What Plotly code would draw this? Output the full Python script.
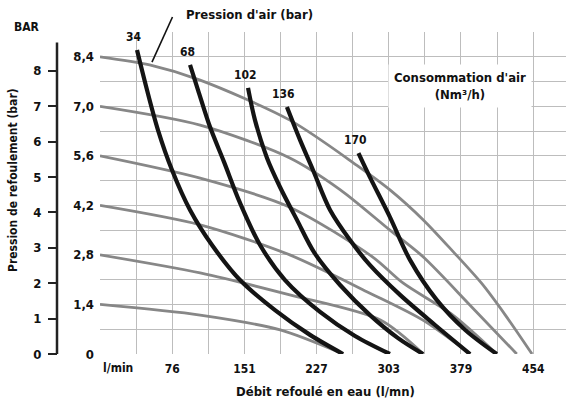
import plotly.graph_objects as go

# ---- data -------------------------------------------------------------
# flow axis (l/min): grid every 10 US gpm, labels every 20 US gpm
flow_grid = [i * 37.85 for i in range(13)]
flow_tick_text = ["", "", "76", "", "151", "", "227", "", "303", "", "379", "", "454"]

# discharge pressure axis (bar): grid every 0.7 bar, labels every 1.4 bar
bar_grid = [round(i * 0.7, 1) for i in range(14)]
bar_tick_text = ["0", "", "1,4", "", "2,8", "", "4,2", "", "5,6", "", "7,0", "", "8,4", ""]
bar_left_ticks = [0, 1, 2, 3, 4, 5, 6, 7, 8]

# constant air-pressure curves (grey): flow l/min -> discharge bar
p84_flow = [0, 52, 105, 199, 269, 304, 339, 370, 400, 425, 453]
p84_bar = [8.4, 8.17, 7.74, 6.61, 5.34, 4.64, 3.79, 2.9, 2.0, 1.1, 0]
p70_flow = [0, 105, 199, 252, 304, 339, 388, 437]
p70_bar = [7.0, 6.47, 5.54, 4.64, 3.50, 2.74, 1.38, 0]
p56_flow = [0, 105, 199, 286, 318, 370, 416]
p56_bar = [5.6, 4.97, 4.15, 2.74, 2.0, 1.1, 0]
p42_flow = [0, 105, 199, 283, 339, 388]
p42_bar = [4.2, 3.65, 2.8, 1.72, 0.95, 0]
p28_flow = [0, 105, 199, 294, 339]
p28_bar = [2.8, 2.29, 1.67, 0.96, 0]
p14_flow = [0, 105, 189, 255]
p14_bar = [1.4, 1.10, 0.68, 0]

# constant air-consumption curves (black, Nm3/h)
c34_flow = [38.8, 49.3, 60.8, 75.5, 94.4, 117.4, 146.8, 183.5, 220.2, 254.8]
c34_bar = [8.59, 7.46, 6.33, 5.20, 4.07, 3.08, 2.09, 1.24, 0.54, 0]
c68_flow = [94.4, 102.8, 115.3, 130.0, 146.8, 167.8, 194.0, 230.7, 267.4, 304.0]
c68_bar = [8.17, 7.46, 6.42, 5.43, 4.27, 3.08, 2.09, 1.19, 0.51, 0]
c102_flow = [155.2, 162.5, 175.1, 188.7, 206.5, 225.0, 251.7, 283.1, 312.5, 338.7]
c102_bar = [7.52, 6.61, 5.54, 4.72, 3.79, 2.85, 1.95, 1.10, 0.45, 0]
c136_flow = [196.0, 209.7, 223.3, 241.2, 262.1, 283.1, 314.6, 351.3, 388.0]
c136_bar = [6.98, 6.05, 5.20, 4.07, 3.22, 2.51, 1.67, 0.82, 0]
c170_flow = [271, 283, 304, 325, 353, 383, 416]
c170_bar = [5.68, 5.0, 3.87, 2.66, 1.53, 0.68, 0]

pressure_curves = [
    (p84_flow, p84_bar), (p70_flow, p70_bar), (p56_flow, p56_bar),
    (p42_flow, p42_bar), (p28_flow, p28_bar), (p14_flow, p14_bar),
]
consumption_curves = [
    ("34", c34_flow, c34_bar), ("68", c68_flow, c68_bar), ("102", c102_flow, c102_bar),
    ("136", c136_flow, c136_bar), ("170", c170_flow, c170_bar),
]

# ---- style -------------------------------------------------------------
FONT = "DejaVu Sans Condensed, Liberation Sans Narrow, Arial Narrow, DejaVu Sans, sans-serif"
GRID = "#bdbdbd"
GREY = "#878787"
BLACK = "#141414"
W, H = 566, 408
MT, MB = 32, 54
PLOT_LEFT = 100
X_MAX = 454 * (W - PLOT_LEFT) / 433.0
Y_MAX = 9.1
PLOT_H = H - MT - MB


def py(pix):
    """paper y for a vertical pixel position"""
    return (H - MB - pix) / PLOT_H


fig = go.Figure()

for fx, fy in pressure_curves:
    fig.add_trace(go.Scatter(
        x=fx, y=fy, mode="lines", line=dict(color=GREY, width=2.8, shape="spline", smoothing=0.8),
        hoverinfo="skip", showlegend=False))

for name, fx, fy in consumption_curves:
    fig.add_trace(go.Scatter(
        x=fx, y=fy, mode="lines", line=dict(color=BLACK, width=4.2, shape="spline", smoothing=0.9),
        hoverinfo="skip", showlegend=False))
    fig.add_annotation(x=fx[0], y=fy[0], text="<b>%s</b>" % name, showarrow=False,
                       xanchor="center", yanchor="middle",
                       yshift=13, xshift=-3, font=dict(size=12, color="#111"))

# invisible trace to carry the secondary (BAR) axis
fig.add_trace(go.Scatter(x=[0], y=[0], yaxis="y2", mode="markers",
                         marker=dict(opacity=0), hoverinfo="skip", showlegend=False))

fig.update_layout(
    width=W, height=H,
    margin=dict(l=0, r=0, t=MT, b=MB),
    paper_bgcolor="white", plot_bgcolor="white",
    font=dict(family=FONT, size=12, color="#111"),
    xaxis=dict(
        domain=[PLOT_LEFT / W, 1], range=[0, X_MAX],
        tickmode="array", tickvals=flow_grid,
        ticktext=["<b>%s</b>" % t if t else "" for t in flow_tick_text],
        showgrid=True, gridcolor=GRID, gridwidth=1.2, zeroline=False, showline=False,
        ticks="", ticklabelstandoff=6, tickfont=dict(size=12),
    ),
    yaxis=dict(
        range=[0, Y_MAX], tickmode="array", tickvals=bar_grid,
        ticktext=["<b>%s</b>" % t if t else "" for t in bar_tick_text],
        showgrid=True, gridcolor=GRID, gridwidth=1.2, zeroline=False, showline=False,
        ticks="", ticklabelstandoff=5, tickfont=dict(size=13),
    ),
    yaxis2=dict(
        overlaying="y", anchor="free", side="left", position=57 / W,
        range=[0, Y_MAX], tickmode="array", tickvals=bar_left_ticks,
        ticktext=["<b>%d</b>" % v for v in bar_left_ticks],
        showgrid=False, zeroline=False, showline=False,
        ticks="outside", ticklen=9, tickwidth=2, tickcolor="#222",
        ticklabelstandoff=4, tickfont=dict(size=13),
    ),
)

# left BAR axis line
fig.add_shape(type="line", xref="paper", yref="y", x0=57 / W, x1=57 / W, y0=0, y1=8.8,
              line=dict(color="#222", width=2.5))

# leader line from the air-pressure title to the 8.4 bar curve
fig.add_shape(type="line", xref="x", yref="paper", x0=76, y0=py(17),
              x1=54.5, y1=8.25 / Y_MAX, line=dict(color="#111", width=1.6))


def label(text, px, pyx, size=13, **kw):
    fig.add_annotation(xref="paper", yref="paper", x=px / W, y=py(pyx), text=text,
                       xanchor=kw.pop("xanchor", "center"), yanchor="middle",
                       showarrow=False, font=dict(size=size), **kw)


label("<b>Pression d'air (bar)</b>", 250, 14)
label("<b>BAR</b>", 27, 27, size=12)
label("<b>Pression de refoulement (bar)</b>", 13, 180, size=12, textangle=-90)
label("<b>Débit refoulé en eau (l/mn)</b>", 325, 391)
label("<b>l/min</b>", 101, 368, size=12, xanchor="left")
label("<b>Consommation d'air</b><br><b>(Nm³/h)</b>", 460, 86,
      bgcolor="white", borderpad=5)

fig.write_html("out.html")
